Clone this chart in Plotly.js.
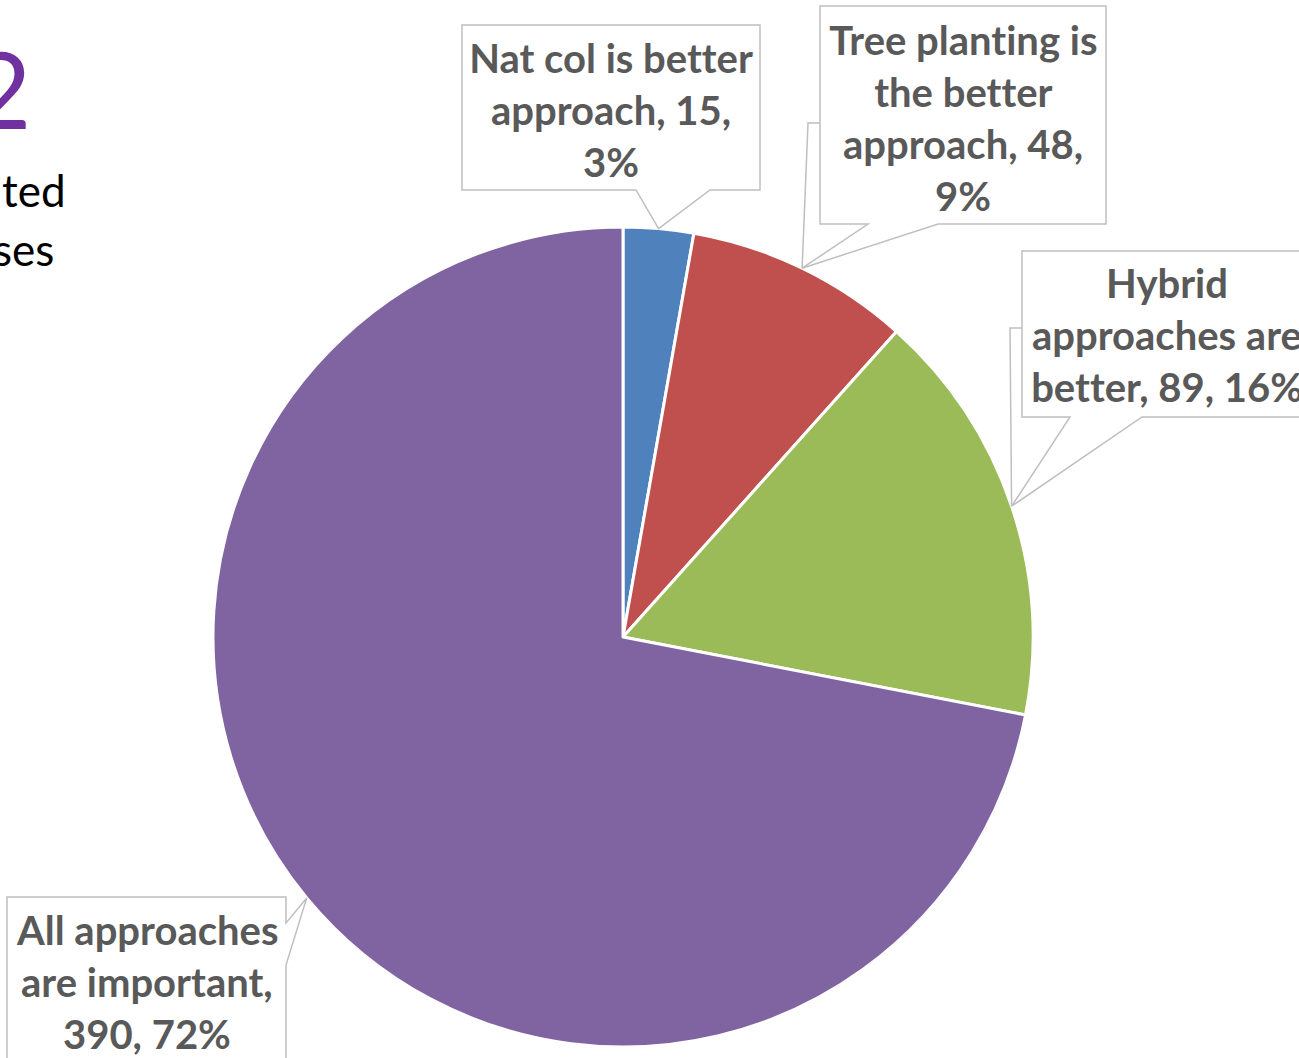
<!DOCTYPE html>
<html>
<head>
<meta charset="utf-8">
<script src="https://cdn.plot.ly/plotly-3.0.1.min.js"></script>
<style>
  html, body { margin: 0; padding: 0; background: #ffffff; }
  #chart { width: 1299px; height: 1058px; }
  #chart text { font-variant-ligatures: none; font-feature-settings: "liga" 0, "clig" 0; }
</style>
</head>
<body>
<div id="chart"></div>
<script>
// Survey answers: which restoration approach is better
const categories = [
  'Nat col is better approach',
  'Tree planting is the better approach',
  'Hybrid approaches are better',
  'All approaches are important'
];
const counts = [15, 48, 89, 390];
const sliceColors = ['#4F81BD', '#C0504D', '#9BBB59', '#8064A2'];
// how many words go on each wrapped line of a callout label
const lineWordCounts = [[4, 2, 1], [3, 2, 2, 1], [1, 2, 3], [2, 2, 2]];

// page geometry (pixels)
const W = 1299, H = 1058;
const pieCx = 623, pieCy = 637, pieR = 410;

// callout boxes: [left, top, right, bottom], text centre x, text row centres y,
// the opening of the pointer on the box edge, and an optional side stub
const callouts = [
  { box: [462, 25, 760, 190], textX: 611, rows: [58, 110, 162], side: 'bottom', open: [636, 710] },
  { box: [820, 6, 1106, 224], textX: 963, rows: [40, 92, 144, 196], side: 'bottom', open: [868, 938], stub: [808, 123] },
  { box: [1022, 251, 1312, 417], textX: 1167, rows: [283, 335, 387], side: 'bottom', open: [1070, 1142], stub: [1010, 328] },
  { box: [7, 897, 286, 1110], textX: 147, rows: [930, 982, 1034], side: 'right', open: [923, 965] }
];

const px = x => x / W;
const py = y => 1 - y / H;
const P = (x, y) => px(x).toFixed(5) + ',' + py(y).toFixed(5);

const total = counts.reduce((a, b) => a + b, 0);

// label text: "category, count, percent%", wrapped by word counts
function labelLines(i) {
  const pct = Math.round(counts[i] / total * 100);
  const words = (categories[i] + ', ' + counts[i] + ', ' + pct + '%').split(' ');
  const out = [];
  let k = 0;
  lineWordCounts[i].forEach(n => { out.push(words.slice(k, k + n).join(' ')); k += n; });
  return out;
}

// pointer tip: edge of the pie at the middle angle of each slice (clockwise from 12 o'clock)
function tipFor(i) {
  const before = counts.slice(0, i).reduce((a, b) => a + b, 0);
  const mid = (before + counts[i] / 2) / total * 2 * Math.PI;
  return [pieCx + pieR * Math.sin(mid), pieCy - pieR * Math.cos(mid)];
}

const shapes = [];
const annotations = [];
const lineStyle = { color: '#BFBFBF', width: 1.5 };

callouts.forEach((c, i) => {
  const [x0, y0, x1, y1] = c.box;
  const [tx, ty] = tipFor(i);
  let path;
  if (c.side === 'bottom') {
    const [a, b] = c.open;
    path = 'M' + P(x0, y0) + ' L' + P(x1, y0) + ' L' + P(x1, y1) + ' L' + P(b, y1) +
           ' L' + P(tx, ty) + ' L' + P(a, y1) + ' L' + P(x0, y1) + ' Z';
  } else {
    const [a, b] = c.open;
    path = 'M' + P(x0, y0) + ' L' + P(x1, y0) + ' L' + P(x1, a) + ' L' + P(tx, ty) +
           ' L' + P(x1, b) + ' L' + P(x1, y1) + ' L' + P(x0, y1) + ' Z';
  }
  shapes.push({ type: 'path', xref: 'paper', yref: 'paper', path: path,
                fillcolor: '#ffffff', line: lineStyle, layer: 'above' });
  if (c.stub) {
    const [sx, sy] = c.stub;
    shapes.push({ type: 'path', xref: 'paper', yref: 'paper',
                  path: 'M' + P(x0, sy) + ' L' + P(sx, sy) + ' L' + P(tx, ty),
                  line: lineStyle, layer: 'above' });
  }
  labelLines(i).forEach((t, r) => {
    annotations.push({
      xref: 'paper', yref: 'paper', x: px(c.textX), y: py(c.rows[r]),
      xanchor: 'center', yanchor: 'middle', showarrow: false, text: t,
      font: { family: 'Lato, "Open Sans", sans-serif', size: 40, color: '#595959', weight: 700 }
    });
  });
});

// neighbouring slide text at the left edge
annotations.push({
  xref: 'paper', yref: 'paper', x: px(33), y: py(88), xanchor: 'right', yanchor: 'middle',
  showarrow: false, text: '2',
  font: { family: 'Lato, sans-serif', size: 106, color: '#7030A0' }
});
annotations.push({
  xref: 'paper', yref: 'paper', x: px(68), y: py(190), xanchor: 'right', yanchor: 'middle',
  showarrow: false, text: 'ted',
  font: { family: 'Lato, sans-serif', size: 44, color: '#000000' }
});
annotations.push({
  xref: 'paper', yref: 'paper', x: px(56), y: py(249), xanchor: 'right', yanchor: 'middle',
  showarrow: false, text: 'ses',
  font: { family: 'Lato, sans-serif', size: 44, color: '#000000' }
});

const trace = {
  type: 'pie',
  labels: categories,
  values: counts,
  sort: false,
  direction: 'clockwise',
  rotation: 0,
  textinfo: 'none',
  textposition: 'inside',
  hoverinfo: 'none',
  showlegend: false,
  marker: { colors: sliceColors, line: { color: '#ffffff', width: 3 } },
  domain: { x: [px(pieCx - pieR), px(pieCx + pieR)], y: [py(pieCy + pieR), py(pieCy - pieR)] }
};

const layout = {
  width: W,
  height: H,
  margin: { l: 0, r: 0, t: 0, b: 0, pad: 0 },
  paper_bgcolor: '#ffffff',
  plot_bgcolor: '#ffffff',
  showlegend: false,
  shapes: shapes,
  annotations: annotations
};

Plotly.newPlot('chart', [trace], layout, { staticPlot: true, displayModeBar: false });
</script>
</body>
</html>
